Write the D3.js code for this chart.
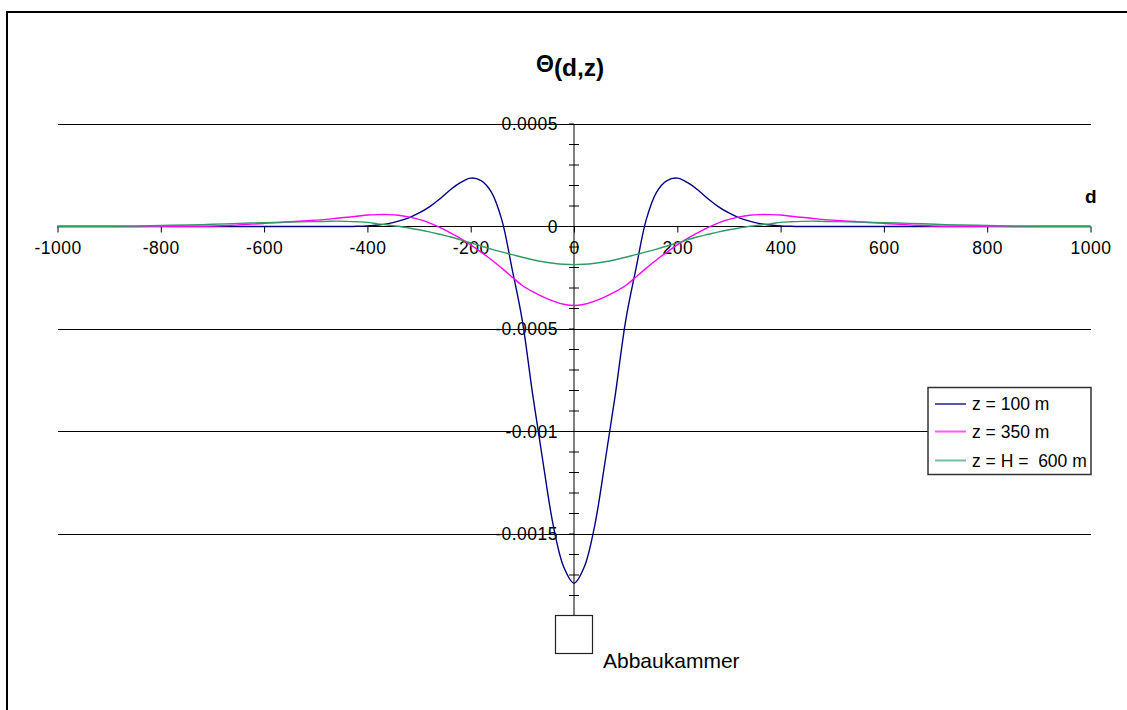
<!DOCTYPE html>
<html>
<head>
<meta charset="utf-8">
<script src="https://cdn.jsdelivr.net/npm/d3@7"></script>
<style>
  html, body { margin: 0; padding: 0; background: #fff; }
  svg { display: block; font-family: Arial, "Liberation Sans", sans-serif; }
  .tick-label { font-size: 17.5px; letter-spacing: 0.5px; fill: #000; }
</style>
</head>
<body>
<div id="chart"></div>
<script>
// distance d (m)
const dValues = [
  -1000, -950, -900, -850, -800, -750, -700, -650, -600, -550,
  -500, -480, -460, -440, -420, -400, -380, -360, -340, -320, -300, -280, -260, -240, -220,
  -200, -180, -160, -140, -120, -100, -80, -60, -40, -20,
  0,
  20, 40, 60, 80, 100, 120, 140, 160, 180, 200,
  220, 240, 260, 280, 300, 320, 340, 360, 380, 400, 420, 440, 460, 480, 500,
  550, 600, 650, 700, 750, 800, 850, 900, 950, 1000
];

// z = 100 m
const theta100 = [
  0, 0, 0, 0, 0, 0, 0, 0, 0, 0,
  0, 0, 0, 0, 0.000001, 0.000003, 0.000007, 0.000014, 0.000026, 0.000042, 0.000066, 0.000096, 0.000134, 0.000178, 0.000214,
  0.000236, 0.000224, 0.000168, 0.000035, -0.000205, -0.00046, -0.00082, -0.00115, -0.00146, -0.00166,
  -0.00174,
  -0.00166, -0.00146, -0.00115, -0.00082, -0.00046, -0.000205, 0.000035, 0.000168, 0.000224, 0.000236,
  0.000214, 0.000178, 0.000134, 0.000096, 0.000066, 0.000042, 0.000026, 0.000014, 0.000007, 0.000003, 0.000001, 0, 0, 0, 0,
  0, 0, 0, 0, 0, 0, 0, 0, 0, 0
];

// z = 350 m
const theta350 = [
  0, 0, 0, 0, 0.000001, 0.000001, 0.000002, 0.000008, 0.000015, 0.000023,
  0.000031, 0.000035, 0.00004, 0.000045, 0.00005, 0.000056, 0.000058, 0.000058, 0.000055, 0.000047, 0.000035, 0.000018, -0.000004, -0.00003, -0.000058,
  -0.00009, -0.000125, -0.000162, -0.000203, -0.000246, -0.000288, -0.000318, -0.000343, -0.000364, -0.000379,
  -0.000385,
  -0.000379, -0.000364, -0.000343, -0.000318, -0.000288, -0.000246, -0.000203, -0.000162, -0.000125, -0.00009,
  -0.000058, -0.00003, -0.000004, 0.000018, 0.000035, 0.000047, 0.000055, 0.000058, 0.000058, 0.000056, 0.00005, 0.000045, 0.00004, 0.000035, 0.000031,
  0.000023, 0.000015, 0.000008, 0.000002, 0.000001, 0.000001, 0, 0, 0, 0
];

// z = H = 600 m
const theta600 = [
  0.000001, 0.000001, 0.000001, 0.000002, 0.000005, 0.000007, 0.000011, 0.000015, 0.000019, 0.000022,
  0.000024, 0.000025, 0.000026, 0.000025, 0.000023, 0.00002, 0.000013, 0.000007, 0.000001, -0.000007, -0.000016, -0.000026, -0.000038, -0.00005, -0.000065,
  -0.00008, -0.000095, -0.00011, -0.000124, -0.000137, -0.00015, -0.000162, -0.000172, -0.000179, -0.000184,
  -0.000186,
  -0.000184, -0.000179, -0.000172, -0.000162, -0.00015, -0.000137, -0.000124, -0.00011, -0.000095, -0.00008,
  -0.000065, -0.00005, -0.000038, -0.000026, -0.000016, -0.000007, 0.000001, 0.000007, 0.000013, 0.00002, 0.000023, 0.000025, 0.000026, 0.000025, 0.000024,
  0.000022, 0.000019, 0.000015, 0.000011, 0.000007, 0.000005, 0.000002, 0.000001, 0.000001, 0.000001
];

const seriesNames = ["z = 100 m", "z = 350 m", "z = H =  600 m"];
const seriesColors = ["#000080", "#ff00ff", "#339966"];
const xTicks = [-1000, -800, -600, -400, -200, 0, 200, 400, 600, 800, 1000];
const yMajor = [0.0005, 0, -0.0005, -0.001, -0.0015];
const yGrid = [0.0005, -0.0005, -0.001, -0.0015];

const width = 1127, height = 710;

const svg = d3.select("#chart").append("svg")
  .attr("width", width)
  .attr("height", height);

// chart frame
svg.append("rect")
  .attr("x", 7).attr("y", 12)
  .attr("width", 1130).attr("height", 710)
  .attr("fill", "#fff")
  .attr("stroke", "#000")
  .attr("stroke-width", 2);

const x = d3.scaleLinear().domain([-1000, 1000]).range([57.5, 1090.5]);
const y = d3.scaleLinear().domain([0.0005, -0.0015]).range([124, 534]);

// horizontal gridlines
svg.append("g").selectAll("line")
  .data(yGrid)
  .join("line")
  .attr("x1", x(-1000)).attr("x2", x(1000))
  .attr("y1", d => y(d)).attr("y2", d => y(d))
  .attr("stroke", "#000")
  .attr("stroke-width", 1)
  .attr("shape-rendering", "crispEdges");

// x axis (d) at theta = 0
const xAxis = d3.axisBottom(x).tickValues(xTicks).tickSize(6).tickPadding(9).tickFormat(d => String(d));
const gx = svg.append("g")
  .attr("transform", `translate(0,${y(0)})`)
  .call(xAxis);
gx.select(".domain").attr("stroke", "#000").attr("d", `M${x(-1000)},0H${x(1000)}`);
gx.selectAll(".tick line").attr("stroke", "#000");
gx.selectAll(".tick text").attr("class", "tick-label").attr("font-family", null).attr("font-size", null);

// y axis at d = 0
const gy = svg.append("g").attr("transform", `translate(${x(0)},0)`);
gy.append("line")
  .attr("x1", 0).attr("x2", 0)
  .attr("y1", y(0.0005)).attr("y2", y(-0.002))
  .attr("stroke", "#000");

const minorTicks = d3.range(-20, 6).map(i => i * 0.0001).filter(v => Math.abs(v / 0.0005 - Math.round(v / 0.0005)) > 1e-6);
gy.selectAll("line.minor")
  .data(minorTicks)
  .join("line")
  .attr("class", "minor")
  .attr("x1", -5).attr("x2", 5)
  .attr("y1", d => y(d)).attr("y2", d => y(d))
  .attr("stroke", "#000");
gy.selectAll("line.major")
  .data(yMajor.concat([-0.002]))
  .join("line")
  .attr("class", "major")
  .attr("x1", -5).attr("x2", 0)
  .attr("y1", d => y(d)).attr("y2", d => y(d))
  .attr("stroke", "#000");
gy.selectAll("text")
  .data(yMajor)
  .join("text")
  .attr("class", "tick-label")
  .attr("x", -16)
  .attr("y", d => y(d))
  .attr("dy", "0.35em")
  .attr("text-anchor", "end")
  .text(d => d === 0 ? "0" : String(d));

// curves
const seriesData = [theta100, theta350, theta600];
const line = d3.line()
  .x((d, i) => x(dValues[i]))
  .y(d => y(d))
  .curve(d3.curveCatmullRom.alpha(0.5));

svg.append("g").selectAll("path")
  .data(seriesData)
  .join("path")
  .attr("d", d => line(d))
  .attr("fill", "none")
  .attr("stroke", (d, i) => seriesColors[i])
  .attr("stroke-width", 1.4)
  .attr("stroke-linejoin", "round");

// title
const title = svg.append("text")
  .attr("x", 536).attr("y", 72)
  .attr("font-weight", "bold");
title.append("tspan").attr("font-size", 23).text("Θ");
title.append("tspan").attr("font-size", 24.5).attr("dy", 4).text("(d,z)");

// axis label d
svg.append("text")
  .attr("x", 1085).attr("y", 203)
  .attr("font-size", 19)
  .attr("font-weight", "bold")
  .text("d");

// mining chamber
svg.append("rect")
  .attr("x", 555.5).attr("y", 615.5)
  .attr("width", 37).attr("height", 38)
  .attr("fill", "#fff")
  .attr("stroke", "#222")
  .attr("stroke-width", 1.2);
svg.append("text")
  .attr("x", 603).attr("y", 668)
  .attr("font-size", 21)
  .text("Abbaukammer");

// legend
const legend = svg.append("g");
legend.append("rect")
  .attr("x", 928).attr("y", 387.5)
  .attr("width", 163).attr("height", 87)
  .attr("fill", "#fff")
  .attr("stroke", "#333")
  .attr("stroke-width", 1.5);
const legendY = [404, 431.5, 460.5];
const items = legend.selectAll("g.item")
  .data(seriesNames)
  .join("g")
  .attr("class", "item")
  .attr("transform", (d, i) => `translate(0,${legendY[i]})`);
items.append("line")
  .attr("x1", 935).attr("x2", 966)
  .attr("stroke", (d, i) => seriesColors[i])
  .attr("stroke-width", 2)
  .attr("stroke-opacity", 0.65);
items.append("text")
  .attr("x", 972)
  .attr("dy", "0.35em")
  .attr("font-size", 17.5)
  .style("white-space", "pre")
  .text(d => d);
</script>
</body>
</html>
